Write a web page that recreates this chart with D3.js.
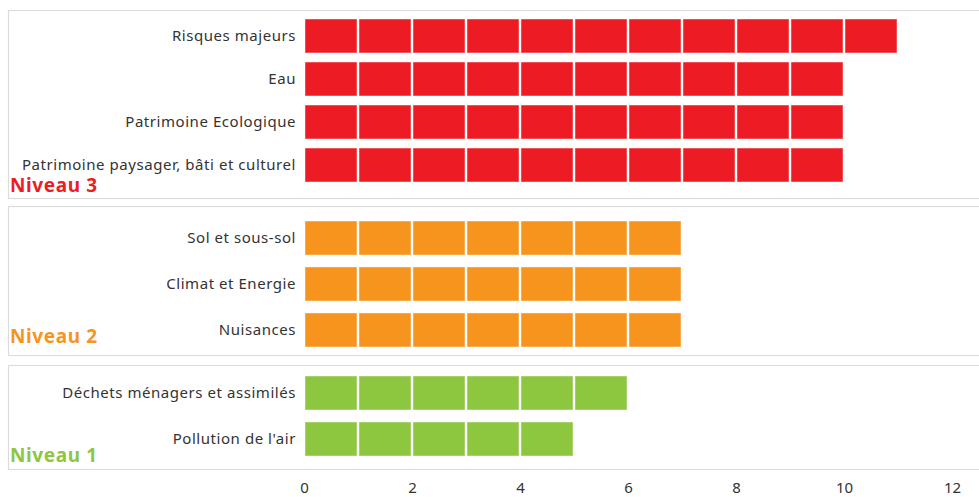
<!DOCTYPE html>
<html>
<head>
<meta charset="utf-8">
<script src="https://cdn.jsdelivr.net/npm/d3@7"></script>
<style>
  body { margin: 0; background: #fff; }
  text { font-family: "Noto Sans", "Lato", sans-serif; }
</style>
</head>
<body>
<div id="chart"></div>
<script>
var width = 979, height = 497;

// data
var niveau3Cats = ["Risques majeurs", "Eau", "Patrimoine Ecologique", "Patrimoine paysager, bâti et culturel"];
var niveau3Vals = [11, 10, 10, 10];
var niveau2Cats = ["Sol et sous-sol", "Climat et Energie", "Nuisances"];
var niveau2Vals = [7, 7, 7];
var niveau1Cats = ["Déchets ménagers et assimilés", "Pollution de l'air"];
var niveau1Vals = [6, 5];
var groupNames = ["Niveau 3", "Niveau 2", "Niveau 1"];
var groupColors = ["#ed1c24", "#f7941d", "#8dc63f"];
var xTicks = [0, 2, 4, 6, 8, 10, 12];

// layout per panel: box top/bottom, bars range, padding
var panels = [
  {cats: niveau3Cats, vals: niveau3Vals, top: 10, bottom: 198, barTop: 19, barBottom: 182, pad: 0.21, labelY: 192},
  {cats: niveau2Cats, vals: niveau2Vals, top: 206, bottom: 355, barTop: 221, barBottom: 347, pad: 0.26, labelY: 343},
  {cats: niveau1Cats, vals: niveau1Vals, top: 365, bottom: 469, barTop: 376, barBottom: 456, pad: 0.26, labelY: 462}
];

var svg = d3.select("#chart").append("svg")
  .attr("width", width)
  .attr("height", height);

var x = d3.scaleLinear().domain([0, 12]).range([304, 952]);

panels.forEach(function(p, gi){
  var g = svg.append("g");

  g.append("rect")
    .attr("x", 8.5).attr("y", p.top + 0.5)
    .attr("width", 1000).attr("height", p.bottom - p.top)
    .attr("fill", "none")
    .attr("stroke", "#dcdcdc")
    .attr("stroke-width", 1.2);

  var y = d3.scaleBand()
    .domain(p.cats)
    .range([p.barTop, p.barBottom])
    .paddingInner(p.pad)
    .paddingOuter(0);

  p.cats.forEach(function(c, i){
    var cells = d3.range(p.vals[i]);
    g.selectAll(null)
      .data(cells)
      .enter()
      .append("rect")
      .attr("x", d => x(d) + 1)
      .attr("y", y(c))
      .attr("width", d => x(d + 1) - x(d) - 2)
      .attr("height", y.bandwidth())
      .attr("fill", groupColors[gi])
      .attr("stroke", "#fff")
      .attr("stroke-opacity", 0.45)
      .attr("stroke-width", 1);

    g.append("text")
      .attr("x", 296)
      .attr("y", y(c) + y.bandwidth() / 2)
      .attr("dy", "0.35em")
      .attr("text-anchor", "end")
      .attr("font-size", 15)
      .attr("letter-spacing", 0.55)
      .attr("fill", "#333")
      .text(c);
  });

  g.append("text")
    .attr("x", 10)
    .attr("y", p.labelY)
    .attr("font-size", 19)
    .attr("font-weight", "bold")
    .attr("letter-spacing", 0.6)
    .attr("fill", groupColors[gi])
    .text(groupNames[gi]);
});

// x axis, labels only
var axis = svg.append("g")
  .attr("transform", "translate(0,478)")
  .call(d3.axisBottom(x).tickValues(xTicks).tickSize(0).tickPadding(4));
axis.select(".domain").remove();
axis.selectAll("text")
  .attr("font-size", 15)
  .attr("font-family", "'Noto Sans', Lato, sans-serif")
  .attr("fill", "#333");
</script>
</body>
</html>
